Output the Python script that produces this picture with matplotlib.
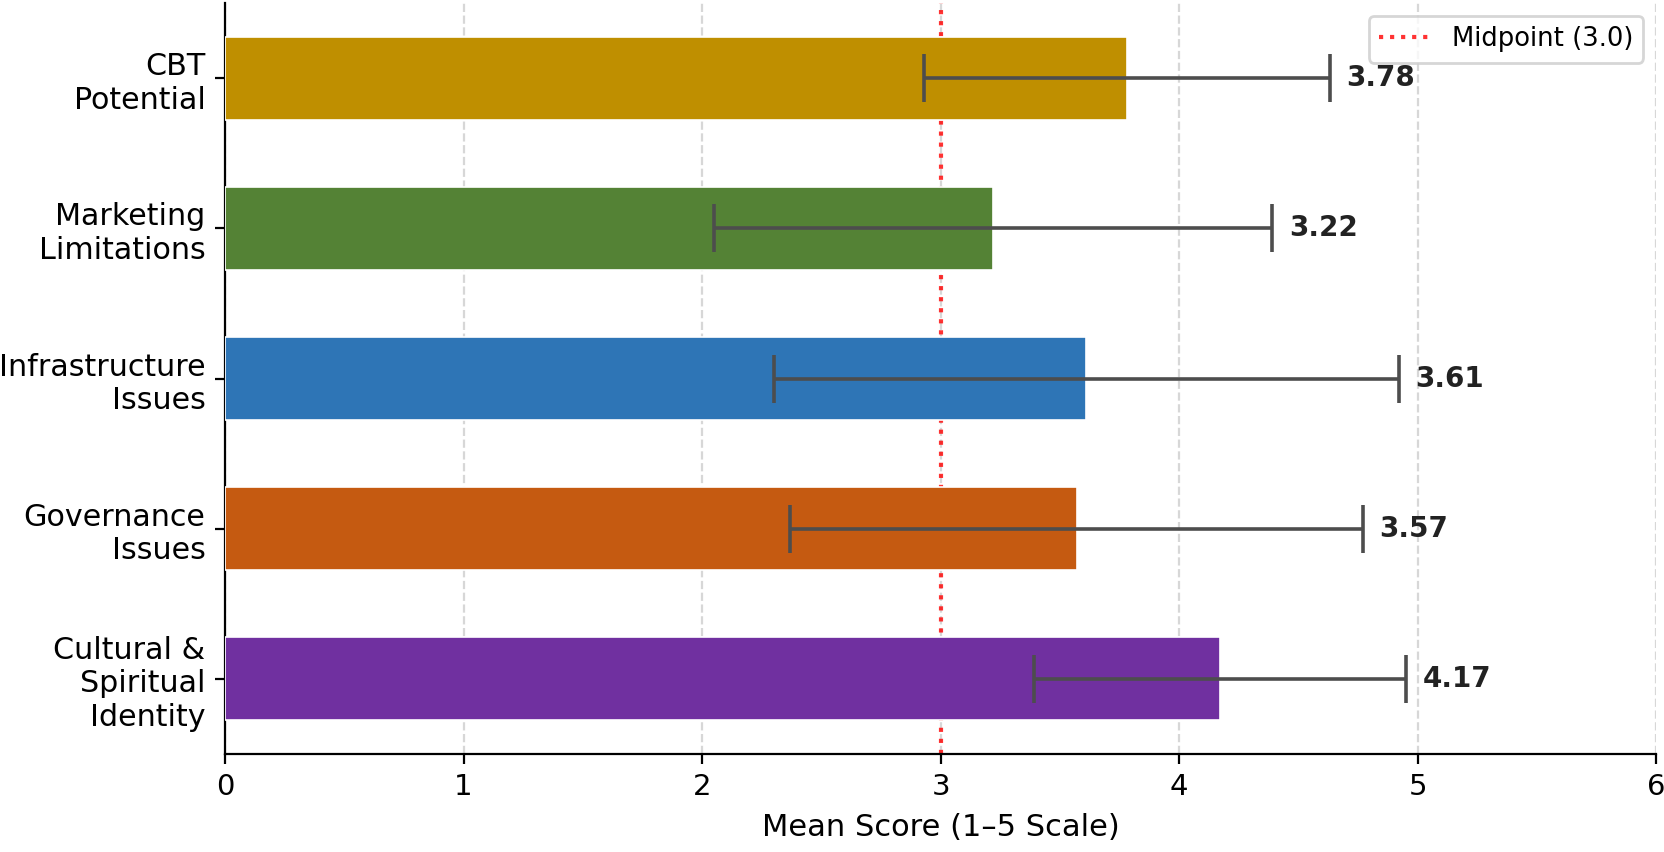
import matplotlib
matplotlib.use("Agg")
import matplotlib.pyplot as plt

# Data (bottom to top)
categories = ["Cultural &\nSpiritual\nIdentity", "Governance\nIssues",
              "Infrastructure\nIssues", "Marketing\nLimitations", "CBT\nPotential"]
means = [4.17, 3.57, 3.61, 3.22, 3.78]
stds = [0.78, 1.20, 1.31, 1.17, 0.85]
colors = ["#7030A0", "#C55A11", "#2E75B6", "#548235", "#BF8F00"]
midpoint = 3.0

plt.rcParams['font.family'] = 'DejaVu Sans'
plt.rcParams['font.size'] = 10

fig, ax = plt.subplots(figsize=(8.325, 4.26), dpi=200)
fig.subplots_adjust(left=0.1351, right=0.9948, bottom=0.115, top=0.9965)

y = range(len(categories))
ax.barh(y, means, height=0.55, color=colors, edgecolor='white', linewidth=0.6,
        xerr=stds, error_kw=dict(ecolor='#4d4d4d', elinewidth=1.3, capsize=8.5, capthick=1.3),
        zorder=3)

ax.axvline(midpoint, color='red', linestyle=':', linewidth=1.5, alpha=0.8,
           label=f'Midpoint ({midpoint})', zorder=2)

# value labels at the end of each error bar
for i, (m, s) in enumerate(zip(means, stds)):
    ax.text(m + s + 0.07, i, f'{m:.2f}', va='center', ha='left',
            fontsize=10, fontweight='bold', color='#222222')

ax.set_yticks(list(y))
ax.set_yticklabels(categories, fontsize=10.85)
ax.set_xlim(0, 6)
ax.tick_params(axis='x', labelsize=10.5)
ax.set_xlabel('Mean Score (1–5 Scale)', fontsize=11)

ax.grid(axis='x', linestyle='--', alpha=0.5, zorder=0)
ax.set_axisbelow(True)
ax.spines['top'].set_visible(False)
ax.spines['right'].set_visible(False)
ax.legend(loc='upper right', fontsize=9.3)

fig.savefig('out.png', dpi=200)
